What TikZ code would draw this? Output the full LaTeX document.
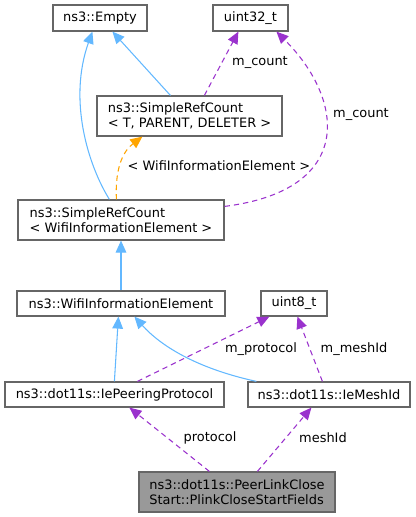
\documentclass[tikz,border=0pt]{standalone}
\usepackage{fontspec}
\setmainfont{DejaVu Sans}
\usetikzlibrary{arrows.meta,calc}
\definecolor{inhblue}{HTML}{63B8FF}
\definecolor{usepurple}{HTML}{9A32CD}
\definecolor{tplorange}{HTML}{FFA500}
\definecolor{boxgray}{HTML}{666666}
\definecolor{mainfill}{HTML}{999999}
\tikzset{
  cls/.style={draw=boxgray, fill=white, line width=0.9pt, inner sep=0pt, align=left, font=\fontsize{9.7pt}{11.3pt}\selectfont, text=black},
  inh/.style={draw=inhblue, line width=0.8pt, -{Triangle[length=9pt,width=8pt]}},
  use/.style={draw=usepurple, line width=0.8pt, dash pattern=on 4pt off 3pt, -{Triangle[length=9pt,width=8pt]}},
  tpl/.style={draw=tplorange, line width=0.8pt, dash pattern=on 4pt off 3pt, -{Triangle[length=9pt,width=8pt]}},
  lbl/.style={font=\fontsize{9.7pt}{11pt}\selectfont, text=black, inner sep=0pt}
}
\begin{document}
\begin{tikzpicture}[x=0.75pt,y=-0.75pt]
\useasboundingbox (0,0) rectangle (416,517);
\node[cls, minimum width=94*0.75pt, minimum height=26*0.75pt] (empty) at (100,18) {ns3::Empty};
\node[cls, minimum width=75*0.75pt, minimum height=26*0.75pt] (u32) at (250.5,18) {uint32\_t};
\node[cls, minimum width=185*0.75pt, minimum height=40*0.75pt] (srcT) at (189.5,116) {ns3::SimpleRefCount\\< T, PARENT, DELETER >};
\node[cls, minimum width=206*0.75pt, minimum height=40*0.75pt] (wie) at (121,220) {ns3::SimpleRefCount\\< WifiInformationElement >};
\node[cls, minimum width=208*0.75pt, minimum height=25*0.75pt] (wifi) at (121,303.5) {ns3::WifiInformationElement};
\node[cls, minimum width=66*0.75pt, minimum height=25*0.75pt] (u8) at (294,303.5) {uint8\_t};
\node[cls, minimum width=219*0.75pt, minimum height=25*0.75pt] (iepp) at (114.5,394.5) {ns3::dot11s::IePeeringProtocol};
\node[cls, minimum width=162*0.75pt, minimum height=25*0.75pt] (iemesh) at (329,394.5) {ns3::dot11s::IeMeshId};
\node[cls, fill=mainfill, minimum width=196*0.75pt, minimum height=40*0.75pt] (main) at (237,492) {ns3::dot11s::PeerLinkClose\\Start::PlinkCloseStartFields};

% inheritance
\draw[inh] ($(wie.north west)+(92,0)$) .. controls (88,165) and (68,100) .. ($(empty.south west)+(40,0)$);
\draw[inh] ($(srcT.north west)+(74,0)$) -- ($(empty.south west)+(60,0)$);
\draw[inh] (wifi.north) -- (wie.south);
\draw[inh] ($(iepp.north west)+(110,0)$) -- ($(wifi.south west)+(102,0)$);
\draw[inh] ($(iemesh.north west)+(9,0)$) .. controls (195,368) and (160,345) .. ($(wifi.south west)+(118,0)$);
% template
\draw[tpl] ($(wie.north west)+(99,0)$) .. controls (115,170) and (122,152) .. ($(srcT.south west)+(46,0)$);
\node[lbl] (tlbl) at (219,166) {< WifiInformationElement >};
% usage
\draw[use] ($(srcT.north west)+(108,0)$) -- ($(u32.south west)+(26,0)$);
\node[lbl] (l1) at (260,62) {m\_count};
\draw[use] ($(wie.north east)+(0,7)$) .. controls (355,190) and (345,100) .. ($(u32.south west)+(64,0)$);
\node[lbl] (l2) at (361,114) {m\_count};
\draw[use] ($(iepp.north west)+(133,0)$) -- ($(u8.south west)+(9,0)$);
\node[lbl] (l3) at (261,349) {m\_protocol};
\draw[use] ($(iemesh.north west)+(75,0)$) -- ($(u8.south west)+(37,0)$);
\node[lbl] (l4) at (354,349) {m\_meshId};
\draw[use] ($(main.north west)+(71,0)$) -- ($(iepp.south west)+(125,0)$);
\node[lbl] (l5) at (210,438) {protocol};
\draw[use] ($(main.north west)+(119,0)$) -- ($(iemesh.south west)+(64,0)$);
\node[lbl] (l6) at (323,438) {meshId};
\end{tikzpicture}
\end{document}
